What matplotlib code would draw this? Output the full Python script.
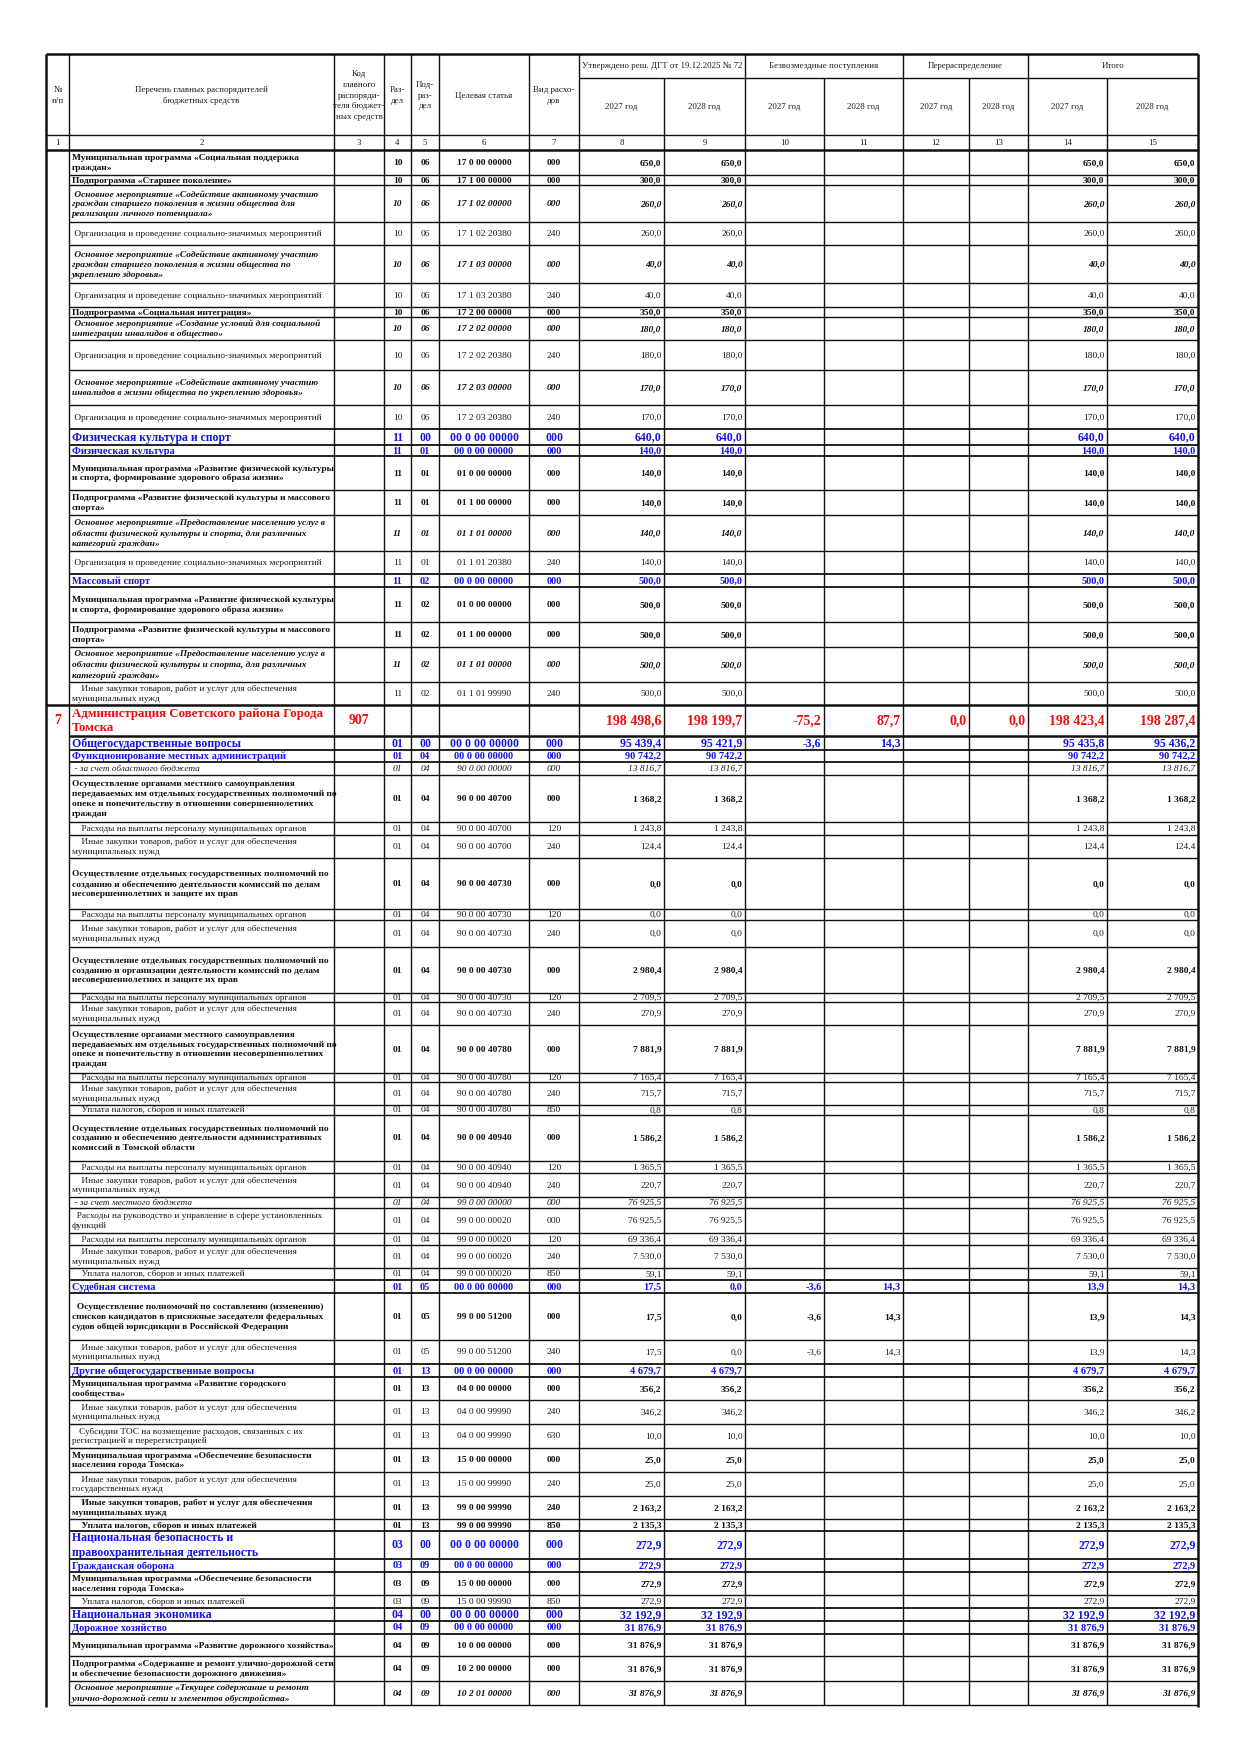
import matplotlib
matplotlib.use("Agg")
import matplotlib.pyplot as plt

plt.rcParams['font.family'] = ['Liberation Serif', 'DejaVu Serif']

# ------------------------------------------------------------------ DATA
names = [
    "Муниципальная программа «Социальная поддержка\nграждан»",
    "Подпрограмма «Старшее поколение»",
    " Основное мероприятие «Содействие активному участию\nграждан старшего поколения в жизни общества для\nреализации личного потенциала»",
    " Организация и проведение социально-значимых мероприятий",
    " Основное мероприятие «Содействие активному участию\nграждан старшего поколения в жизни общества по\nукреплению здоровья»",
    " Организация и проведение социально-значимых мероприятий",
    "Подпрограмма «Социальная интеграция»",
    " Основное мероприятие «Создание условий для социальной\nинтеграции инвалидов в общество»",
    " Организация и проведение социально-значимых мероприятий",
    " Основное мероприятие «Содействие активному участию\nинвалидов в жизни общества по укреплению здоровья»",
    " Организация и проведение социально-значимых мероприятий",
    "Физическая культура и спорт",
    "Физическая культура",
    "Муниципальная программа «Развитие физической культуры\nи спорта, формирование здорового образа жизни»",
    "Подпрограмма «Развитие физической культуры и массового\nспорта»",
    " Основное мероприятие «Предоставление населению услуг в\nобласти физической культуры и спорта, для различных\nкатегорий граждан»",
    " Организация и проведение социально-значимых мероприятий",
    "Массовый спорт",
    "Муниципальная программа «Развитие физической культуры\nи спорта, формирование здорового образа жизни»",
    "Подпрограмма «Развитие физической культуры и массового\nспорта»",
    " Основное мероприятие «Предоставление населению услуг в\nобласти физической культуры и спорта, для различных\nкатегорий граждан»",
    "    Иные закупки товаров, работ и услуг для обеспечения\nмуниципальных нужд",
    "Администрация Советского района Города\nТомска",
    "Общегосударственные вопросы",
    "Функционирование местных администраций",
    " - за счет областного бюджета",
    "Осуществление органами местного самоуправления\nпередаваемых им отдельных государственных полномочий по\nопеке и попечительству в отношении совершеннолетних\nграждан",
    "    Расходы на выплаты персоналу муниципальных органов",
    "    Иные закупки товаров, работ и услуг для обеспечения\nмуниципальных нужд",
    "Осуществление отдельных государственных полномочий по\nсозданию и обеспечению деятельности комиссий по делам\nнесовершеннолетних и защите их прав",
    "    Расходы на выплаты персоналу муниципальных органов",
    "    Иные закупки товаров, работ и услуг для обеспечения\nмуниципальных нужд",
    "Осуществление отдельных государственных полномочий по\nсозданию и организации деятельности комиссий по делам\nнесовершеннолетних и защите их прав",
    "    Расходы на выплаты персоналу муниципальных органов",
    "    Иные закупки товаров, работ и услуг для обеспечения\nмуниципальных нужд",
    "Осуществление органами местного самоуправления\nпередаваемых им отдельных государственных полномочий по\nопеке и попечительству в отношении несовершеннолетних\nграждан",
    "    Расходы на выплаты персоналу муниципальных органов",
    "    Иные закупки товаров, работ и услуг для обеспечения\nмуниципальных нужд",
    "    Уплата налогов, сборов и иных платежей",
    "Осуществление отдельных государственных полномочий по\nсозданию и обеспечению деятельности административных\nкомиссий в Томской области",
    "    Расходы на выплаты персоналу муниципальных органов",
    "    Иные закупки товаров, работ и услуг для обеспечения\nмуниципальных нужд",
    " - за счет местного бюджета",
    "  Расходы на руководство и управление в сфере установленных\nфункций",
    "    Расходы на выплаты персоналу муниципальных органов",
    "    Иные закупки товаров, работ и услуг для обеспечения\nмуниципальных нужд",
    "    Уплата налогов, сборов и иных платежей",
    "Судебная система",
    "  Осуществление полномочий по составлению (изменению)\nсписков кандидатов в присяжные заседатели федеральных\nсудов общей юрисдикции в Российской Федерации",
    "    Иные закупки товаров, работ и услуг для обеспечения\nмуниципальных нужд",
    "Другие общегосударственные вопросы",
    "Муниципальная программа «Развитие городского\nсообщества»",
    "    Иные закупки товаров, работ и услуг для обеспечения\nмуниципальных нужд",
    "   Субсидии ТОС на возмещение расходов, связанных с их\nрегистрацией и перерегистрацией",
    "Муниципальная программа «Обеспечение безопасности\nнаселения города Томска»",
    "    Иные закупки товаров, работ и услуг для обеспечения\nгосударственных нужд",
    "    Иные закупки товаров, работ и услуг для обеспечения\nмуниципальных нужд",
    "    Уплата налогов, сборов и иных платежей",
    "Национальная безопасность и\nправоохранительная деятельность",
    "Гражданская оборона",
    "Муниципальная программа «Обеспечение безопасности\nнаселения города Томска»",
    "    Уплата налогов, сборов и иных платежей",
    "Национальная экономика",
    "Дорожное хозяйство",
    "Муниципальная программа «Развитие дорожного хозяйства»",
    "Подпрограмма «Содержание и ремонт улично-дорожной сети\nи обеспечение безопасности дорожного движения»",
    " Основное мероприятие «Текущее содержание и ремонт\nулично-дорожной сети и элементов обустройства»",
]

# row kind: mp = bold, om = bold italic, reg = regular, it = italic,
# sec = section (blue, large), sub = subsection (blue), adm = administrator (red)
kinds = [
    "mp", "mp", "om", "reg", "om", "reg", "mp", "om", "reg", "om", "reg",
    "sec", "sub", "mp", "mp", "om", "reg", "sub", "mp", "mp", "om", "reg",
    "adm", "sec", "sub", "it", "mp", "reg", "reg", "mp", "reg", "reg",
    "mp", "reg", "reg", "mp", "reg", "reg", "reg", "mp", "reg", "reg",
    "it", "reg", "reg", "reg", "reg", "sub", "mp", "reg", "sub", "mp",
    "reg", "reg", "mp", "reg", "mp", "mp", "sec", "sub", "mp", "reg",
    "sec", "sub", "mp", "mp", "om",
]

row_number = {22: "7"}
gr_code = {22: "907"}

razdel = ["10"] * 11 + ["11"] * 11 + [""] + ["01"] * 28 + ["01"] * 7 + ["03"] * 4 + ["04"] * 5
podrazdel = (["06"] * 11 + ["00", "01", "01", "01", "01", "01", "02", "02", "02", "02", "02"] + [""]
             + ["00"] + ["04"] * 23 + ["05"] * 3 + ["13"] * 8
             + ["00", "09", "09", "09"] + ["00", "09", "09", "09", "09"])
target = [
    "17 0 00 00000", "17 1 00 00000", "17 1 02 00000", "17 1 02 20380", "17 1 03 00000",
    "17 1 03 20380", "17 2 00 00000", "17 2 02 00000", "17 2 02 20380", "17 2 03 00000",
    "17 2 03 20380", "00 0 00 00000", "00 0 00 00000", "01 0 00 00000", "01 1 00 00000",
    "01 1 01 00000", "01 1 01 20380", "00 0 00 00000", "01 0 00 00000", "01 1 00 00000",
    "01 1 01 00000", "01 1 01 99990", "", "00 0 00 00000", "00 0 00 00000",
    "90 0 00 00000", "90 0 00 40700", "90 0 00 40700", "90 0 00 40700", "90 0 00 40730",
    "90 0 00 40730", "90 0 00 40730", "90 0 00 40730", "90 0 00 40730", "90 0 00 40730",
    "90 0 00 40780", "90 0 00 40780", "90 0 00 40780", "90 0 00 40780", "90 0 00 40940",
    "90 0 00 40940", "90 0 00 40940", "99 0 00 00000", "99 0 00 00020", "99 0 00 00020",
    "99 0 00 00020", "99 0 00 00020", "00 0 00 00000", "99 0 00 51200", "99 0 00 51200",
    "00 0 00 00000", "04 0 00 00000", "04 0 00 99990", "04 0 00 99990", "15 0 00 00000",
    "15 0 00 99990", "99 0 00 99990", "99 0 00 99990", "00 0 00 00000", "00 0 00 00000",
    "15 0 00 00000", "15 0 00 99990", "00 0 00 00000", "00 0 00 00000", "10 0 00 00000",
    "10 2 00 00000", "10 2 01 00000",
]
vid = [
    "000", "000", "000", "240", "000", "240", "000", "000", "240", "000", "240",
    "000", "000", "000", "000", "000", "240", "000", "000", "000", "000", "240",
    "", "000", "000", "000", "000", "120", "240", "000", "120", "240",
    "000", "120", "240", "000", "120", "240", "850", "000", "120", "240",
    "000", "000", "120", "240", "850", "000", "000", "240", "000", "000",
    "240", "630", "000", "240", "240", "850", "000", "000", "000", "850",
    "000", "000", "000", "000", "000",
]

approved_2027 = [
    650.0, 300.0, 260.0, 260.0, 40.0, 40.0, 350.0, 180.0, 180.0, 170.0, 170.0,
    640.0, 140.0, 140.0, 140.0, 140.0, 140.0, 500.0, 500.0, 500.0, 500.0, 500.0,
    198498.6, 95439.4, 90742.2, 13816.7, 1368.2, 1243.8, 124.4, 0.0, 0.0, 0.0,
    2980.4, 2709.5, 270.9, 7881.9, 7165.4, 715.7, 0.8, 1586.2, 1365.5, 220.7,
    76925.5, 76925.5, 69336.4, 7530.0, 59.1, 17.5, 17.5, 17.5, 4679.7, 356.2,
    346.2, 10.0, 25.0, 25.0, 2163.2, 2135.3, 272.9, 272.9, 272.9, 272.9,
    32192.9, 31876.9, 31876.9, 31876.9, 31876.9,
]
approved_2028 = [
    650.0, 300.0, 260.0, 260.0, 40.0, 40.0, 350.0, 180.0, 180.0, 170.0, 170.0,
    640.0, 140.0, 140.0, 140.0, 140.0, 140.0, 500.0, 500.0, 500.0, 500.0, 500.0,
    198199.7, 95421.9, 90742.2, 13816.7, 1368.2, 1243.8, 124.4, 0.0, 0.0, 0.0,
    2980.4, 2709.5, 270.9, 7881.9, 7165.4, 715.7, 0.8, 1586.2, 1365.5, 220.7,
    76925.5, 76925.5, 69336.4, 7530.0, 59.1, 0.0, 0.0, 0.0, 4679.7, 356.2,
    346.2, 10.0, 25.0, 25.0, 2163.2, 2135.3, 272.9, 272.9, 272.9, 272.9,
    32192.9, 31876.9, 31876.9, 31876.9, 31876.9,
]
N = len(names)
free_2027 = [None] * N
free_2028 = [None] * N
redistr_2027 = [None] * N
redistr_2028 = [None] * N
for i, (a, b) in {22: (-75.2, 87.7), 23: (-3.6, 14.3), 47: (-3.6, 14.3),
                  48: (-3.6, 14.3), 49: (-3.6, 14.3)}.items():
    free_2027[i], free_2028[i] = a, b
redistr_2027[22], redistr_2028[22] = 0.0, 0.0

total_2027 = [
    650.0, 300.0, 260.0, 260.0, 40.0, 40.0, 350.0, 180.0, 180.0, 170.0, 170.0,
    640.0, 140.0, 140.0, 140.0, 140.0, 140.0, 500.0, 500.0, 500.0, 500.0, 500.0,
    198423.4, 95435.8, 90742.2, 13816.7, 1368.2, 1243.8, 124.4, 0.0, 0.0, 0.0,
    2980.4, 2709.5, 270.9, 7881.9, 7165.4, 715.7, 0.8, 1586.2, 1365.5, 220.7,
    76925.5, 76925.5, 69336.4, 7530.0, 59.1, 13.9, 13.9, 13.9, 4679.7, 356.2,
    346.2, 10.0, 25.0, 25.0, 2163.2, 2135.3, 272.9, 272.9, 272.9, 272.9,
    32192.9, 31876.9, 31876.9, 31876.9, 31876.9,
]
total_2028 = [
    650.0, 300.0, 260.0, 260.0, 40.0, 40.0, 350.0, 180.0, 180.0, 170.0, 170.0,
    640.0, 140.0, 140.0, 140.0, 140.0, 140.0, 500.0, 500.0, 500.0, 500.0, 500.0,
    198287.4, 95436.2, 90742.2, 13816.7, 1368.2, 1243.8, 124.4, 0.0, 0.0, 0.0,
    2980.4, 2709.5, 270.9, 7881.9, 7165.4, 715.7, 0.8, 1586.2, 1365.5, 220.7,
    76925.5, 76925.5, 69336.4, 7530.0, 59.1, 14.3, 14.3, 14.3, 4679.7, 356.2,
    346.2, 10.0, 25.0, 25.0, 2163.2, 2135.3, 272.9, 272.9, 272.9, 272.9,
    32192.9, 31876.9, 31876.9, 31876.9, 31876.9,
]

header_cols = ["№\nп/п", "Перечень главных распорядителей\nбюджетных средств",
               "Код\nглавного\nраспоряди-\nтеля бюджет-\nных средств",
               "Раз-\nдел", "Под-\nраз-\nдел", "Целевая статья", "Вид расхо-\nдов"]
header_groups = ["Утверждено реш. ДГТ от 19.12.2025 № 72", "Безвозмездные поступления",
                 "Перераспределение", "Итого"]
years = ["2027 год", "2028 год"]

# ------------------------------------------------------------------ LAYOUT
COLX = [46, 69, 334, 384, 411, 439, 529, 579, 664, 745, 824, 903, 969, 1028, 1107, 1198]
Y_TOP, Y_GRP, Y_HDR, Y_NUM = 54, 78, 135, 150
ROW_H = [25, 10, 37, 23, 38, 24, 10, 23, 30, 35, 24, 16, 11, 34, 25, 36, 23, 13,
         35, 25, 35, 23, 31, 14, 12, 13, 47, 13, 23, 51, 11, 27, 46, 9, 23, 48,
         9, 23, 10, 46, 12, 24, 11, 25, 12, 23, 12, 13, 47, 24, 13, 23, 24, 24,
         24, 24, 23, 12, 28, 13, 23, 13, 13, 13, 22, 25, 24]

BLUE = "#1414E6"
RED = "#E81010"
TXT = "#1c1c1c"
STY = {
    "mp":  dict(weight="bold", style="normal", color="#111111", size=6.75, nsize=6.8),
    "om":  dict(weight="bold", style="italic", color="#111111", size=6.75, nsize=6.8),
    "reg": dict(weight="normal", style="normal", color=TXT, size=6.7, nsize=6.8),
    "it":  dict(weight="normal", style="italic", color=TXT, size=6.7, nsize=6.8),
    "sec": dict(weight="bold", style="normal", color=BLUE, size=8.5, nsize=8.5),
    "sub": dict(weight="bold", style="normal", color=BLUE, size=7.5, nsize=7.5),
    "adm": dict(weight="bold", style="normal", color=RED, size=9.3, nsize=10.0),
}


def fmt(v):
    if v is None:
        return ""
    s = f"{abs(v):,.1f}".replace(",", " ").replace(".", ",")
    return ("-" if v < 0 else "") + s


fig = plt.figure(figsize=(12.4, 17.53), dpi=100)
ax = fig.add_axes([0, 0, 1, 1])
ax.set_xlim(0, 1240)
ax.set_ylim(1753, 0)
ax.axis("off")

LW = 1.0
LWM = 1.3
LWT = 1.8
LC = "#111111"

bounds = [Y_NUM]
for h in ROW_H:
    bounds.append(bounds[-1] + h)
Y_BOT = bounds[-1]


def hline(y, x0, x1, lw=LW):
    ax.plot([x0, x1], [y, y], color=LC, lw=lw, solid_capstyle="butt")


def vline(x, y0, y1, lw=LW):
    ax.plot([x, x], [y0, y1], color=LC, lw=lw, solid_capstyle="butt")


# ---------------- header
hline(Y_TOP, COLX[0], COLX[-1], LWT)
hline(Y_GRP, COLX[7], COLX[-1])
hline(Y_HDR, COLX[0], COLX[-1])
hline(Y_NUM, COLX[0], COLX[-1], LWT)

for j, x in enumerate(COLX):
    if j in (0, len(COLX) - 1):
        vline(x, Y_TOP, Y_BOT + 2, LWT)
    elif j in (8, 10, 12, 14):
        vline(x, Y_GRP, Y_BOT)
    else:
        vline(x, Y_TOP, Y_BOT)

hfs = 6.4
for j, t in enumerate(header_cols):
    ax.text((COLX[j] + COLX[j + 1]) / 2, (Y_TOP + Y_HDR) / 2 + 1, t, ha="center", va="center",
            fontsize=hfs, color=TXT, linespacing=1.45)
for g, t in enumerate(header_groups):
    x0, x1 = COLX[7 + 2 * g], COLX[9 + 2 * g]
    ax.text((x0 + x1) / 2, (Y_TOP + Y_GRP) / 2, t, ha="center", va="center", fontsize=hfs, color=TXT)
    for k in range(2):
        xa, xb = COLX[7 + 2 * g + k], COLX[8 + 2 * g + k]
        ax.text((xa + xb) / 2, (Y_GRP + Y_HDR) / 2, years[k], ha="center", va="center",
                fontsize=hfs, color=TXT)
for j in range(15):
    ax.text((COLX[j] + COLX[j + 1]) / 2, (Y_HDR + Y_NUM) / 2, str(j + 1), ha="center",
            va="center", fontsize=hfs, color=TXT)

# ---------------- body
num_cols = [approved_2027, approved_2028, free_2027, free_2028,
            redistr_2027, redistr_2028, total_2027, total_2028]
code_cols = [razdel, podrazdel, target, vid]

for i in range(N):
    y0, y1 = bounds[i], bounds[i + 1]
    yc = (y0 + y1) / 2
    k = kinds[i]
    st = STY[k]
    prev = kinds[i - 1] if i > 0 else None
    if k == "adm" or prev == "adm":
        lw = LWT
    elif k in ("sec", "sub") or prev in ("sec", "sub"):
        lw = LWM
    else:
        lw = LW
    x_start = COLX[0] if k == "adm" else COLX[1]
    if i > 0:
        hline(y0, x_start, COLX[-1], lw)
    fkw = dict(fontsize=st["size"], fontweight=st["weight"], fontstyle=st["style"],
               color=st["color"])
    nkw = dict(fkw, fontsize=st["nsize"])
    ax.text(COLX[1] + 3, yc + 0.5, names[i], ha="left", va="center", linespacing=1.3, **fkw)
    if i in row_number:
        ax.text((COLX[0] + COLX[1]) / 2, yc, row_number[i], ha="center", va="center", **nkw)
    if i in gr_code:
        ax.text((COLX[2] + COLX[3]) / 2, yc, gr_code[i], ha="center", va="center", **nkw)
    for c, col in enumerate(code_cols):
        xa, xb = COLX[3 + c], COLX[4 + c]
        ax.text((xa + xb) / 2, yc + 0.5, col[i], ha="center", va="center", **nkw)
    for c, col in enumerate(num_cols):
        xb = COLX[8 + c]
        ax.text(xb - 2.5, yc + 0.5, fmt(col[i]), ha="right", va="center", **nkw)

hline(Y_BOT, COLX[1], COLX[-1], LW)

fig.savefig("out.png", dpi=100)
